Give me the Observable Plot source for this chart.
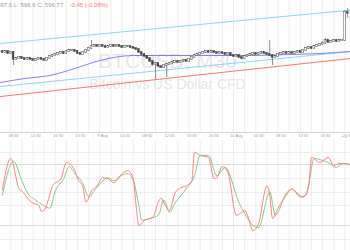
<!DOCTYPE html>
<html><head><meta charset="utf-8">
<script src="https://cdn.jsdelivr.net/npm/d3@7"></script>
<script src="https://cdn.jsdelivr.net/npm/@observablehq/plot@0.6"></script>
<style>
html,body{margin:0;padding:0;background:#fff;overflow:hidden}
#chart{width:350px;height:250px;position:relative;overflow:hidden}
#chart svg{display:block}
</style></head><body><div id="chart"></div>
<script>
// ---- data (bar index 0 = 8 Aug 06:30, 30-minute bars) ----
const firstOpen = 587.25;
const close = [587,587.25,586.75,587,585.25,585.5,585.75,585.5,585.25,585.5,
585.25,585,585.25,585.5,585.25,585,585.5,586,586.25,586.5,
586.75,587,586.75,587.25,587.5,587.5,587.25,586.75,586.5,587,
587.5,588,588.5,588.75,588.5,588.75,588.5,588.25,588.5,588.75,
588.5,588.75,588.5,588.25,588.5,588.5,588.25,588,587.75,587,
586.5,586,585.5,584.75,584,584.25,583.5,583.25,583.75,584,
584.25,584.5,584.75,584.5,584.75,585,584.75,585.25,585.75,586.25,
586.5,586.75,587,587.25,587,587.25,587,586.75,587,586.75,
586.5,586.75,586.25,586,586.25,585.75,585.5,586,586.25,586.5,
586.75,586.5,586.75,587,586.75,586.5,586.25,585.75,586,586.5,
586.75,587,586.75,587,586.75,587,587.25,587,587.5,588,
588.25,588,588.5,588.75,589,589.25,590,589.5,589.75,590,
589.75,590,590,597,596.77];
const high = [587.5,587.5,587.5,587.25,587.25,585.75,586,586,585.75,585.75,
585.75,585.5,585.5,585.75,585.75,585.5,585.75,586.25,586.5,586.75,
587,587.25,587.25,587.5,587.75,587.75,587.75,587.5,587,587.25,
587.75,588.25,590,589,589,589,589,588.75,588.75,589,
589,589,589,588.75,588.75,588.75,588.75,588.5,588.25,588,
587.25,586.75,586.25,585.75,585,584.5,584.5,583.75,584,584.25,
584.5,584.75,585,585,585,585.25,585.25,585.5,586,586.5,
586.75,587,587.25,587.5,587.5,587.5,587.5,587.25,587.25,587.25,
587,587,587,586.5,586.5,586.5,586,586.25,586.5,586.75,
587,587,587,587.25,587.25,587,590,586.5,586.25,586.75,
587,587.25,587.25,587.25,587.25,587.25,587.5,587.5,587.75,588.25,
588.5,588.5,588.75,589,589.25,589.75,590.5,590.25,590,590.25,
590.25,590.25,590.25,597.5,598];
const low = [586.75,586.75,586.5,586.5,583.75,585,585.25,585.25,585,585,
585,584.75,584.75,585,585,584.75,584.75,585.25,585.75,586,
586.25,586.5,586.5,586.5,587,587.25,587,586.5,586.25,586.25,
586.75,587.25,587.75,588.25,588.25,588.25,588.25,588,588,588.25,
588.25,588.25,588.25,588,588,588.25,588,587.75,587.5,586.75,
586.25,585.75,585.25,584.5,583.5,580.25,583.25,583,583,580.75,
583.75,584,584.25,584.25,584.25,584.5,584.5,584.5,585,585.5,
586,586.25,586.5,586.75,586.75,586.75,586.75,586.5,586.5,586.5,
586.25,586.25,586,585.75,585.75,585.5,585,585.25,585.75,586,
586.25,586.25,586.25,586.5,586.5,586.25,586,583.75,585.5,585.75,
586.25,586.5,586.5,586.5,586.5,586.5,586.75,586.75,586.75,587.25,
587.75,587.75,587.75,588.25,588.5,588.75,589,589.25,589.25,589.5,
589.5,589.5,589.75,589.75,595.5];

// moving averages / channel (bar index, price)
const maRedIdx = [-0.68, 62, 125];
const maRedVal = [576, 580.75, 585.5];
const maBlueIdx = [-0.68, 8, 17, 26, 35, 47, 62, 75, 89, 103, 114, 125];
const maBlueVal = [579.5, 580.5, 581.25, 583, 585, 586.25, 586.25, 586.25, 586.25, 586.5, 586.75, 587.25];
const chanIdx = [-0.68, 125];
const chanUpper = [589.25, 597.6];
const chanLower = [578.5, 587.25];

// stochastic
const kIdx = [0,3,6,7,9,11,13,14,15,17,18,21,23,26,27,29,30,32,34,36,38,40,41,43,45,47,48,49,51,54,56,57,58,60,62,64,66,68,69,71,74,76,77,79,81,84,86,87,88,90,92,95,96,97,99,102,104,105,108,110,111,114,117,119,121,123,125];
const kVal = [55,86,56,54,47,42,40,34,35,50,59,66,82,74,66,57,43,54,59,67,66,62,64,71,74,66,40,20,25,28,43,47,42,35,52,57,59,64,92,89,87,66,67,78,72,30,33,35,30,15,22,59,50,27,37,50,56,54,48,59,87,82,87,79,81,81,79];
const dIdx = [0,4,7,9,12,16,17,19,22,24,26,29,31,33,35,38,40,42,45,47,49,50,53,56,58,60,62,66,69,71,74,77,80,85,87,90,92,96,98,102,104,107,109,112,115,117,120,122,125];
const dVal = [50,83,64,52,45,38,37,54,66,78,71,61,48,54,61,67,64,68,71,64,40,25,27,30,45,33,42,56,69,89,89,69,77,42,32,20,18,53,30,52,56,48,50,86,84,82,77,81,80];
const stochLevels = [80, 20];
const stochGrid = [91.8, 66.2, 52.5, 39.7, 6.2];

// time axis
const labelIdx = [4,12,20,28,36,44,52,60,68,76,84,92,100,108,116,124];
const timeLabels = ["08:30","12:30","16:30","20:30","9 Aug","04:30","08:30","12:30","16:30","20:30","10 Aug","04:30","08:30","12:30","16:30","20:30"];
const gridIdx = [3,7,11,15,19,23,27,31,35,39,43,47,51,55,59,63,67,71,75,79,83,87,91,95,99,103,107,111,115,119,123];

const headerGray = "H: 597.6 L: 596.6 C: 596.77";
const headerRed = "-0.45 (-0.08%)";
const wmTitle = "BTCUSD, M30";
const wmSub = "Bitcoin vs US Dollar CFD";

// ---- build ----
const candles = close.map((c, i) => ({i, o: i ? close[i-1] : firstOpen, c, h: high[i], l: low[i]}));
const pts = (xs, ys) => xs.map((x, j) => ({i: x, v: ys[j]}));
const xDomain = [-0.68, 125];
const font = "'Liberation Sans', Arial, sans-serif";

const pricePanel = Plot.plot({
  width: 350, height: 140, marginTop: 0, marginRight: 0, marginBottom: 8, marginLeft: 0,
  style: {fontFamily: font, background: "white", overflow: "hidden"},
  x: {domain: xDomain},
  y: {domain: [567, 600], axis: null},
  marks: [
    Plot.ruleX(gridIdx, {stroke: "#eeeeee", strokeWidth: 1}),
    Plot.text([wmTitle], {text: d => d, frameAnchor: "top-left", dx: 167, dy: 67, textAnchor: "middle", lineAnchor: "bottom", fontSize: 21, fill: "#e6e6e6"}),
    Plot.text([wmSub], {text: d => d, frameAnchor: "top-left", dx: 167, dy: 88, textAnchor: "middle", lineAnchor: "bottom", fontSize: 14, fill: "#e6e6e6"}),
    Plot.line(pts(chanIdx, chanUpper), {x: "i", y: "v", stroke: "#8cd6f5", strokeWidth: 1}),
    Plot.line(pts(chanIdx, chanLower), {x: "i", y: "v", stroke: "#8cd6f5", strokeWidth: 1}),
    Plot.line(pts(maRedIdx, maRedVal), {x: "i", y: "v", stroke: "#ff7070", strokeWidth: 1}),
    Plot.line(pts(maBlueIdx, maBlueVal), {x: "i", y: "v", stroke: "#7d7dfa", strokeWidth: 1, curve: "monotone-x"}),
    Plot.ruleX(candles, {x: "i", y1: "l", y2: "h", stroke: "#444", strokeWidth: 0.6}),
    Plot.rect(candles, {x1: d => d.i - 0.32, x2: d => d.i + 0.32, y1: "o", y2: "c",
      fill: d => d.c >= d.o ? "#fff" : "#444", stroke: "#444", strokeWidth: 0.45, insetTop: -0.35, insetBottom: -0.35}),
    Plot.ruleY([567], {stroke: "#cfcfcf", strokeWidth: 1}),
    Plot.axisX(labelIdx, {tickFormat: d => timeLabels[labelIdx.indexOf(d)], tickSize: 0, tickPadding: 1.5, fontSize: 4, fill: "#999", stroke: null}),
    Plot.text([headerGray], {text: d => d, frameAnchor: "top-left", dx: -11, dy: 6, textAnchor: "start", lineAnchor: "bottom", fontSize: 6, fill: "#9a9a9a"}),
    Plot.text([headerRed], {text: d => d, frameAnchor: "top-left", dx: 69, dy: 6, textAnchor: "start", lineAnchor: "bottom", fontSize: 6, fill: "#f07878"})
  ]
});

const stochPanel = Plot.plot({
  width: 350, height: 110, marginTop: 0, marginRight: 0, marginBottom: 0, marginLeft: 0,
  style: {fontFamily: font, background: "white", overflow: "hidden"},
  x: {domain: xDomain, axis: null},
  y: {domain: [-4.6, 103.6], axis: null},
  marks: [
    Plot.ruleX(gridIdx, {stroke: "#eeeeee", strokeWidth: 1}),
    Plot.ruleY(stochGrid, {stroke: "#eeeeee", strokeWidth: 1}),
    Plot.ruleY(stochLevels, {stroke: "#d9d9d9", strokeWidth: 1}),
    Plot.line(pts(dIdx, dVal), {x: "i", y: "v", stroke: "#86c986", strokeWidth: 1, curve: "monotone-x"}),
    Plot.line(pts(kIdx, kVal), {x: "i", y: "v", stroke: "#ff7f7f", strokeWidth: 1, curve: "monotone-x"})
  ]
});

const el = document.getElementById("chart");
el.appendChild(pricePanel);
el.appendChild(stochPanel);
</script></body></html>
